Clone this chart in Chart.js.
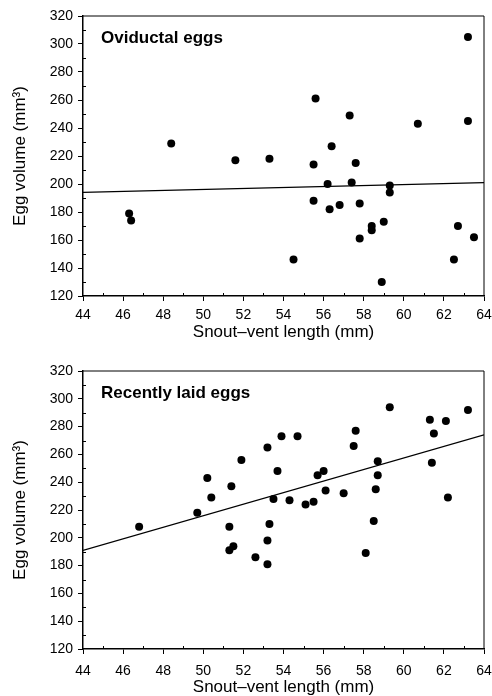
<!DOCTYPE html>
<html>
<head>
<meta charset="utf-8">
<title>Egg volume vs snout-vent length</title>
<script src="https://cdn.jsdelivr.net/npm/chart.js@4.4.1/dist/chart.umd.min.js"></script>
<style>
  html, body { margin: 0; padding: 0; background: #fff; }
  canvas { display: block; }
</style>
</head>
<body>
<canvas id="oviductal" width="492" height="348"></canvas>
<canvas id="laid" width="492" height="348"></canvas>
<script>
// Oviductal eggs (top panel)
var ovLength = [46.3, 46.4, 48.4, 51.6, 53.3, 54.5, 55.5, 55.5, 55.6, 56.2, 56.3, 56.4, 56.8,
    57.3, 57.4, 57.6, 57.8, 57.8, 58.4, 58.4, 58.9, 59.0, 59.3, 59.3, 60.7, 62.5, 62.7, 63.2, 63.2, 63.5];
var ovVolume = [179, 174, 229, 217, 218, 146, 214, 188, 261, 200, 182, 227, 185,
    249, 201, 215, 186, 161, 170, 167, 130, 173, 199, 194, 243, 146, 170, 305, 245, 162];
var ovFitX = [44, 64];
var ovFitY = [194, 201];

// Recently laid eggs (bottom panel)
var laidLength = [46.8, 49.7, 50.2, 50.4, 51.3, 51.3, 51.4, 51.5, 51.9, 52.6, 53.2, 53.2, 53.2, 53.3,
    53.5, 53.7, 53.9, 54.3, 54.7, 55.1, 55.5, 55.7, 56.0, 56.1, 57.0, 57.5, 57.6, 58.1, 58.5, 58.6,
    58.7, 58.7, 59.3, 61.3, 61.4, 61.5, 62.1, 62.2, 63.2];
var laidVolume = [208, 218, 243, 229, 208, 191, 237, 194, 256, 186, 265, 198, 181, 210,
    228, 248, 273, 227, 273, 224, 226, 245, 248, 234, 232, 266, 277, 189, 212, 235,
    245, 255, 294, 285, 254, 275, 284, 229, 292];
var laidFitX = [44, 64];
var laidFitY = [191, 274];

var xTicks = [44, 46, 48, 50, 52, 54, 56, 58, 60, 62, 64];
var yTicks = [120, 140, 160, 180, 200, 220, 240, 260, 280, 300, 320];

Chart.defaults.font.family = "'Liberation Sans', Arial, Helvetica, sans-serif";
Chart.defaults.color = '#000';

function toPoints(xs, ys) {
    return xs.map(function (x, i) {
        return {x: x, y: ys[i]};
    });
}

// box around the plot plus small inward minor ticks
var framePlugin = {
    id: 'frame',
    afterDraw: function (chart) {
        var ctx = chart.ctx;
        var a = chart.chartArea;
        var xs = chart.scales.x;
        var ys = chart.scales.y;
        ctx.save();
        ctx.strokeStyle = '#000';
        ctx.lineWidth = 1;
        ctx.beginPath();
        ctx.moveTo(a.left, a.top);
        ctx.lineTo(a.right, a.top);
        ctx.lineTo(a.right, a.bottom);
        ctx.stroke();
        ctx.beginPath();
        for (var i = 0; i < xTicks.length - 1; i++) {
            var px = Math.round(xs.getPixelForValue(xTicks[i] + 1)) + 0.5;
            ctx.moveTo(px, a.bottom);
            ctx.lineTo(px, a.bottom - 3);
        }
        for (var j = 0; j < yTicks.length - 1; j++) {
            var py = Math.round(ys.getPixelForValue(yTicks[j] + 10)) + 0.5;
            ctx.moveTo(a.left, py);
            ctx.lineTo(a.left + 3, py);
        }
        ctx.stroke();
        var label = chart.options.plugins.frame.label;
        ctx.font = "bold 17px 'Liberation Sans', Arial, sans-serif";
        ctx.fillStyle = '#000';
        ctx.textBaseline = 'middle';
        ctx.fillText(label, a.left + 18, a.top + 22);
        ctx.restore();
    }
};

function makeChart(id, label, xs, ys, fitX, fitY, topPad, xHeight, tickPad, xTitlePad) {
    return new Chart(document.getElementById(id), {
        type: 'scatter',
        data: {
            datasets: [{
                data: toPoints(xs, ys),
                pointRadius: 4,
                pointBackgroundColor: '#000',
                pointBorderWidth: 0
            }, {
                data: toPoints(fitX, fitY),
                showLine: true,
                borderColor: '#000',
                borderWidth: 1.2,
                pointRadius: 0
            }]
        },
        options: {
            responsive: false,
            animation: false,
            layout: {padding: {top: topPad, right: 0, left: 0, bottom: 0}},
            plugins: {
                legend: {display: false},
                tooltip: {enabled: false},
                frame: {label: label}
            },
            scales: {
                x: {
                    min: 44,
                    max: 64,
                    afterBuildTicks: function (scale) {
                        scale.ticks = xTicks.map(function (v) {
                            return {value: v};
                        });
                    },
                    afterFit: function (scale) {
                        scale.height = xHeight;
                        scale.paddingLeft = 0;
                        scale.paddingRight = 8;
                    },
                    grid: {drawOnChartArea: false, color: '#000', tickLength: 5},
                    border: {color: '#000', width: 1.5},
                    ticks: {font: {size: 14}, padding: tickPad, maxRotation: 0},
                    title: {
                        display: true,
                        text: 'Snout\u2013vent length (mm)',
                        font: {size: 17, lineHeight: 1},
                        padding: {top: 0, bottom: xTitlePad}
                    }
                },
                y: {
                    min: 120,
                    max: 320,
                    afterBuildTicks: function (scale) {
                        scale.ticks = yTicks.map(function (v) {
                            return {value: v};
                        });
                    },
                    afterFit: function (scale) {
                        scale.width = 83;
                    },
                    grid: {drawOnChartArea: false, color: '#000', tickLength: 5},
                    border: {color: '#000', width: 1.5},
                    ticks: {font: {size: 14}, padding: 5},
                    title: {
                        display: true,
                        text: 'Egg volume (mm\u00b3)',
                        font: {size: 17},
                        padding: {top: 10, bottom: 0}
                    }
                }
            }
        },
        plugins: [framePlugin]
    });
}

makeChart('oviductal', 'Oviductal eggs', ovLength, ovVolume, ovFitX, ovFitY, 16, 52, 6, 7);
makeChart('laid', 'Recently laid eggs', laidLength, laidVolume, laidFitX, laidFitY, 23, 47, 9, 0);
</script>
</body>
</html>
